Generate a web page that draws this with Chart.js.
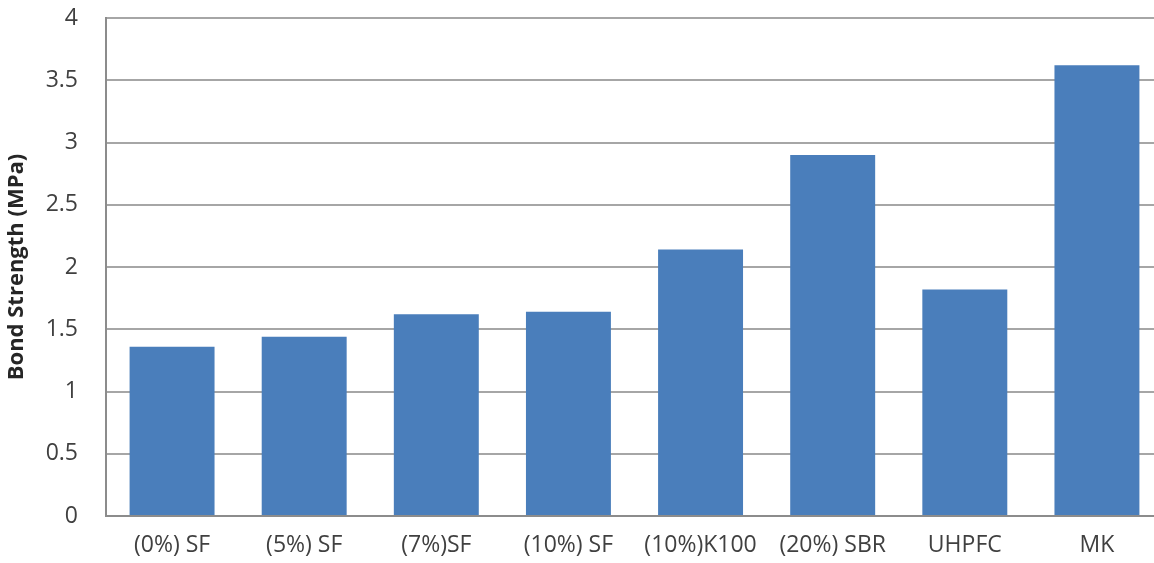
<!DOCTYPE html>
<html>
<head>
<meta charset="utf-8">
<script src="https://cdn.jsdelivr.net/npm/chart.js@4/dist/chart.umd.min.js"></script>
<style>
  html, body { margin: 0; padding: 0; background: #ffffff; overflow: hidden; }
  #wrap { width: 1163px; height: 563px; position: relative; }
</style>
</head>
<body>
<div id="wrap"><canvas id="chart"></canvas></div>
<script>
// Bond strength of each repair material
const categories = ['(0%) SF', '(5%) SF', '(7%)SF', '(10%) SF', '(10%)K100', '(20%) SBR', 'UHPFC', 'MK'];
const bondStrength = [1.36, 1.44, 1.62, 1.64, 2.14, 2.90, 1.82, 3.62];
const yTicks = [0, 0.5, 1, 1.5, 2, 2.5, 3, 3.5, 4];

const FONT = '"Open Sans", "Liberation Sans", sans-serif';
const GRID = '#a6a6a6';
const AXIS = '#8c8c8c';

new Chart(document.getElementById('chart'), {
  type: 'bar',
  data: {
    labels: categories,
    datasets: [{
      data: bondStrength,
      backgroundColor: '#4a7ebb',
      borderWidth: 0,
      barPercentage: 1,
      categoryPercentage: 0.643
    }]
  },
  options: {
    responsive: true,
    maintainAspectRatio: false,
    animation: false,
    layout: { padding: { top: 18, right: 0, bottom: 0, left: 0 } },
    plugins: { legend: { display: false }, tooltip: { enabled: false } },
    scales: {
      x: {
        grid: { display: false, drawTicks: false },
        border: { color: AXIS, width: 2 },
        ticks: { color: '#404040', font: { family: FONT, size: 23 }, padding: 16, maxRotation: 0, autoSkip: false },
        afterFit: (s) => { s.height = 47; s.paddingLeft = 0; s.paddingRight = 0; }
      },
      y: {
        min: 0,
        max: 4,
        afterBuildTicks: (s) => { s.ticks = yTicks.map(v => ({ value: v })); },
        grid: { color: GRID, lineWidth: 2, drawTicks: false },
        border: { color: AXIS, width: 2 },
        ticks: {
          color: '#404040',
          font: { family: FONT, size: 23 },
          padding: 28,
          callback: (v) => String(v)
        },
        title: {
          display: true,
          text: 'Bond Strength (MPa)',
          color: '#262626',
          font: { family: FONT, size: 22, weight: 'bold' },
          padding: { top: 4, bottom: 0 }
        },
        afterFit: (s) => { s.width = 106; s.paddingTop = 0; s.paddingBottom = 0; }
      }
    }
  }
});
</script>
</body>
</html>
